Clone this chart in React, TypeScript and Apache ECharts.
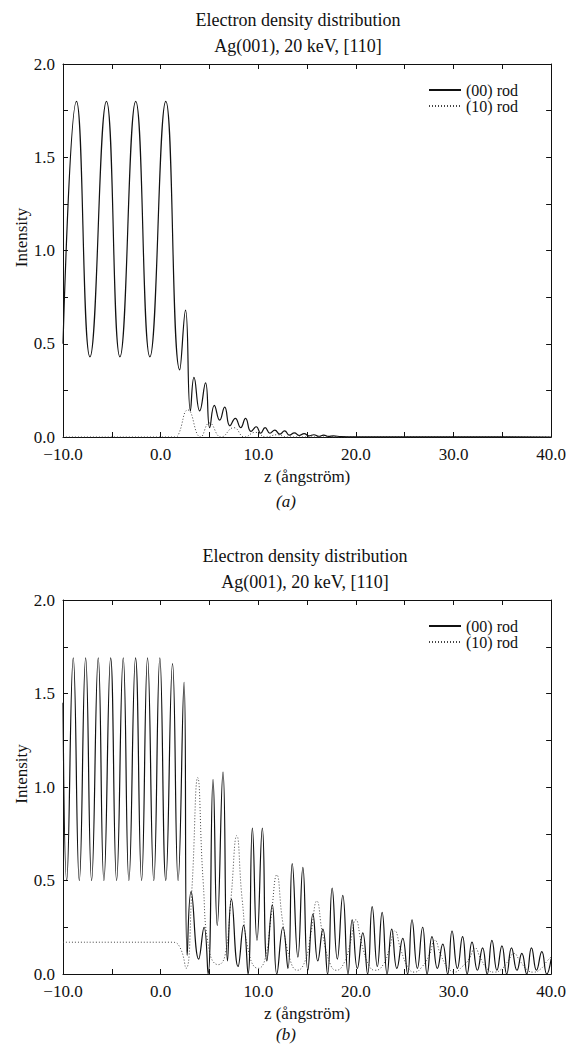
import React, { useEffect, useRef } from "react";
import * as echarts from "echarts";

// ---------- data ----------
// (a) (00) rod: z positions and intensities (extrema)
const zA00 = [-10.0, -8.62, -7.24, -5.55, -4.17, -2.55, -1.1, 0.53, 1.96, 2.55, 3.05, 3.42, 4.0, 4.6, 5.03, 5.5, 6.05, 6.56, 7.1, 7.65, 8.2, 8.7, 9.25, 9.8, 10.25, 10.7, 11.2, 11.7, 12.2, 12.7, 13.2, 13.7, 14.2, 14.7, 15.2, 15.7, 16.2, 16.7, 17.2, 17.7, 18.5, 20.0, 40.0];
const iA00 = [0.5, 1.8, 0.43, 1.8, 0.43, 1.8, 0.43, 1.8, 0.36, 0.68, 0.14, 0.32, 0.14, 0.29, 0.05, 0.17, 0.09, 0.16, 0.06, 0.1, 0.05, 0.1, 0.03, 0.055, 0.02, 0.05, 0.02, 0.037, 0.015, 0.033, 0.01, 0.022, 0.008, 0.018, 0.006, 0.012, 0.004, 0.01, 0.003, 0.006, 0.002, 0.001, 0.0];

// (a) (10) rod
const zA10 = [-10.0, 1.5, 1.8, 2.8, 4.1, 5.0, 6.2, 7.5, 8.6, 9.7, 10.8, 11.9, 13.0, 40.0];
const iA10 = [0.0, 0.0, 0.01, 0.145, 0.0, 0.075, 0.0, 0.05, 0.0, 0.025, 0.0, 0.012, 0.0, 0.0];

// (b) (00) rod
const zB00 = [-10.0, -9.62, -8.95, -8.33, -7.68, -7.07, -6.39, -5.81, -5.12, -4.51, -3.83, -3.25, -2.57, -1.95, -1.34, -0.7, -0.08, 0.53, 1.22, 1.79, 2.4, 2.72, 3.12, 3.9, 4.45, 4.86, 5.37, 5.8, 6.39, 6.85, 7.25, 7.93, 8.5, 8.95, 9.4, 9.87, 10.42, 10.89, 11.44, 11.9, 12.53, 13.04, 13.48, 14.06, 14.57, 15.08, 15.6, 16.1, 16.62, 17.1, 17.57, 18.1, 18.66, 19.2, 19.62, 20.15, 20.71, 21.2, 21.67, 22.2, 22.69, 23.2, 23.67, 24.2, 24.8, 25.3, 25.75, 26.3, 26.84, 27.3, 27.8, 28.35, 28.9, 29.4, 29.85, 30.4, 30.93, 31.4, 31.9, 32.45, 32.98, 33.45, 33.94, 34.45, 34.96, 35.45, 35.94, 36.5, 37.0, 37.5, 37.99, 38.5, 39.05, 39.55, 40.0];
const iB00 = [1.45, 0.5, 1.69, 0.5, 1.69, 0.5, 1.69, 0.5, 1.69, 0.5, 1.69, 0.5, 1.69, 0.5, 1.69, 0.5, 1.69, 0.5, 1.66, 0.5, 1.56, 0.1, 0.44, 0.08, 0.25, 0.0, 1.04, 0.26, 1.08, 0.07, 0.4, 0.04, 0.26, 0.0, 0.78, 0.18, 0.78, 0.07, 0.37, 0.0, 0.25, 0.03, 0.59, 0.09, 0.57, 0.02, 0.32, 0.07, 0.24, 0.0, 0.46, 0.08, 0.42, 0.0, 0.29, 0.03, 0.22, 0.0, 0.36, 0.04, 0.33, 0.0, 0.24, 0.03, 0.19, 0.0, 0.29, 0.03, 0.25, 0.0, 0.2, 0.03, 0.16, 0.0, 0.23, 0.03, 0.2, 0.0, 0.17, 0.02, 0.14, 0.0, 0.18, 0.02, 0.15, 0.0, 0.14, 0.02, 0.11, 0.0, 0.14, 0.02, 0.12, 0.0, 0.08];

// (b) (10) rod
const zB10 = [-10.0, 1.2, 2.0, 2.6, 3.2, 3.8, 4.35, 5.0, 5.9, 6.6, 7.2, 7.8, 8.35, 9.1, 10.0, 10.7, 11.3, 11.9, 12.5, 13.3, 14.0, 14.8, 15.4, 16.0, 16.6, 17.4, 18.0, 18.8, 19.4, 20.0, 20.6, 21.4, 22.0, 22.8, 23.4, 24.0, 24.6, 25.4, 26.0, 26.8, 27.5, 28.1, 28.7, 29.5, 30.1, 30.9, 31.6, 32.2, 32.8, 33.6, 34.2, 35.0, 35.6, 36.2, 36.8, 37.6, 38.2, 39.0, 39.6, 40.0];
const iB10 = [0.17, 0.17, 0.14, 0.03, 0.45, 1.05, 0.5, 0.12, 0.05, 0.1, 0.4, 0.74, 0.4, 0.1, 0.03, 0.08, 0.3, 0.53, 0.28, 0.07, 0.02, 0.07, 0.22, 0.39, 0.21, 0.05, 0.02, 0.06, 0.16, 0.29, 0.16, 0.04, 0.02, 0.05, 0.13, 0.23, 0.13, 0.03, 0.01, 0.04, 0.1, 0.18, 0.1, 0.03, 0.01, 0.04, 0.08, 0.14, 0.08, 0.02, 0.01, 0.03, 0.07, 0.11, 0.07, 0.02, 0.01, 0.03, 0.07, 0.09];

const seriesNames = ["(00) rod", "(10) rod"];
const titleLine1 = "Electron density distribution";
const titleLine2 = "Ag(001), 20 keV, [110]";
const xName = "z (ångström)";
const yName = "Intensity";
const panelLabels = ["(a)", "(b)"];

const FONT = '"Liberation Serif", "Times New Roman", Times, serif';
const BLACK = "#111";

const zip = (xs: number[], ys: number[]) => xs.map((x, i) => [x, ys[i]]);

function fmtX(v: number) {
  if (v % 10 !== 0) return "";
  const s = Math.abs(v).toFixed(1);
  return v < 0 ? "\u2212" + s : s;
}
function fmtY(v: number) {
  const k = Math.round(v * 4);
  if (k % 2 !== 0) return "";
  return (k / 4).toFixed(1);
}

export default function App() {
  const ref = useRef<HTMLDivElement>(null);
  useEffect(() => {
    if (!ref.current) return;
    const chart = echarts.init(ref.current, null, { renderer: "svg" });
    const grids = [
      { left: 63, top: 64, width: 489, height: 373 },
      { left: 63, top: 600, width: 489, height: 374 },
    ];
    const lineS = { color: BLACK, width: 1 };
    const xAxes: any[] = [];
    const yAxes: any[] = [];
    grids.forEach((g, gi) => {
      xAxes.push({
        gridIndex: gi, type: "value", min: -10, max: 40, interval: 5, position: "bottom",
        name: xName, nameLocation: "middle", nameGap: 31,
        nameTextStyle: { fontFamily: FONT, fontSize: 17, color: BLACK },
        axisLine: { onZero: false, lineStyle: lineS },
        axisTick: { inside: true, length: 5, lineStyle: lineS },
        axisLabel: { formatter: fmtX, margin: 10, lineHeight: 15, fontFamily: FONT, fontSize: 17, color: BLACK, showMinLabel: true, showMaxLabel: true },
        splitLine: { show: false },
      });
      xAxes.push({
        gridIndex: gi, type: "value", min: -10, max: 40, interval: 5, position: "top",
        axisLine: { onZero: false, lineStyle: lineS },
        axisTick: { inside: true, length: 5, lineStyle: lineS },
        axisLabel: { show: false }, splitLine: { show: false },
      });
      yAxes.push({
        gridIndex: gi, type: "value", min: 0, max: 2, interval: 0.25, position: "left",
        axisLine: { onZero: false, lineStyle: lineS },
        axisTick: { inside: true, length: 5, lineStyle: lineS },
        axisLabel: { formatter: fmtY, margin: 8, lineHeight: 14, fontFamily: FONT, fontSize: 17, color: BLACK },
        splitLine: { show: false },
      });
      yAxes.push({
        gridIndex: gi, type: "value", min: 0, max: 2, interval: 0.25, position: "right",
        axisLine: { onZero: false, lineStyle: lineS },
        axisTick: { inside: true, length: 5, lineStyle: lineS },
        axisLabel: { show: false }, splitLine: { show: false },
      });
    });

    const solid = { color: BLACK, width: 1.2, type: "solid" };
    const dotted = { color: "#444", width: 1, type: [1, 2] };
    const mk = (name: string, data: number[][], gi: number, ls: any) => ({
      name, type: "line", data, xAxisIndex: gi * 2, yAxisIndex: gi * 2,
      showSymbol: false, symbol: "none", smooth: 0.5, clip: true,
      lineStyle: ls, itemStyle: { color: ls.color }, z: name === seriesNames[0] ? 3 : 2,
    });

    const legends = grids.map((g) => ({
      orient: "vertical", left: 423, top: g.top + 13, itemWidth: 32, itemHeight: 10, itemGap: 0,
      data: seriesNames, selectedMode: false,
      itemStyle: { opacity: 0 },
      textStyle: { fontFamily: FONT, fontSize: 16, lineHeight: 14, color: BLACK },
    }));

    const titleGraphics: any[] = [];
    grids.forEach((g, gi) => {
      const cx = gi === 0 ? 298 : 305;
      titleGraphics.push({ type: "text", x: cx, y: g.top - 44, style: { text: titleLine1, font: `18px ${FONT}`, fill: BLACK, textAlign: "center", textVerticalAlign: "middle" } });
      titleGraphics.push({ type: "text", x: cx, y: g.top - 18, style: { text: titleLine2, font: `18px ${FONT}`, fill: BLACK, textAlign: "center", textVerticalAlign: "middle" } });
      titleGraphics.push({ type: "text", x: 21, y: g.top + g.height / 2 - 13, rotation: Math.PI / 2, style: { text: yName, font: `17px ${FONT}`, fill: BLACK, textAlign: "center", textVerticalAlign: "middle" } });
      titleGraphics.push({ type: "text", x: 286, y: gi === 0 ? g.top + g.height + 64 : 1034, style: { text: panelLabels[gi], font: `italic 17px ${FONT}`, fill: BLACK, textAlign: "center", textVerticalAlign: "middle" } });
    });

    chart.setOption({
      animation: false,
      backgroundColor: "#fff",
      grid: grids,
      xAxis: xAxes,
      yAxis: yAxes,
      legend: legends,
      graphic: titleGraphics,
      series: [
        mk(seriesNames[0], zip(zA00, iA00), 0, solid),
        mk(seriesNames[1], zip(zA10, iA10), 0, dotted),
        mk(seriesNames[0], zip(zB00, iB00), 1, solid),
        mk(seriesNames[1], zip(zB10, iB10), 1, dotted),
      ],
    });
    return () => chart.dispose();
  }, []);
  return <div ref={ref} style={{ position: "absolute", left: 0, top: 0, width: 569, height: 1046, background: "#fff" }} />;
}
